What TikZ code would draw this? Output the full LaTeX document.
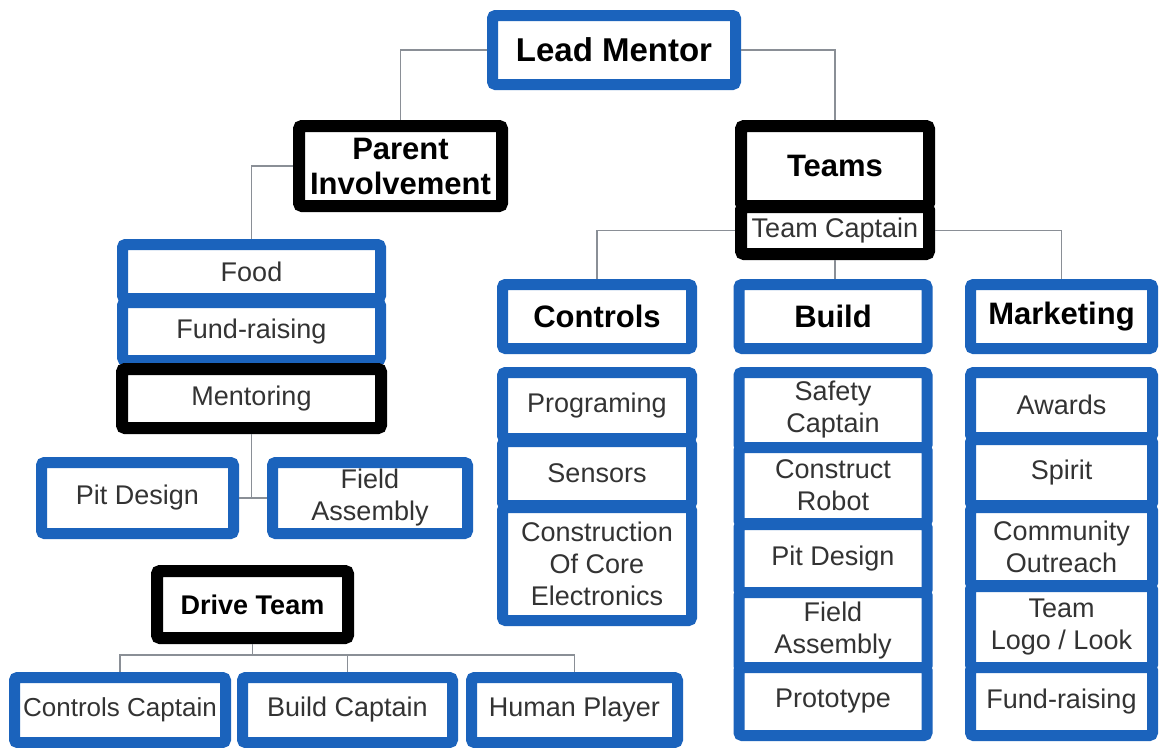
\documentclass[tikz,border=0pt]{standalone}
\usepackage{fontspec}
\setmainfont{Liberation Sans}
\usepackage{tikz}
\definecolor{boxblue}{HTML}{1B63BC}
\definecolor{linkgray}{HTML}{8A8F96}
\definecolor{celltext}{HTML}{333333}

\begin{document}
\begin{tikzpicture}[x=1pt, y=-1pt,
    bluebox/.style={draw=boxblue, line width=11pt, fill=white, rounded corners=3pt,
      inner sep=0pt, align=center, text=celltext, font=\fontsize{27}{32}\selectfont},
    blackbox/.style={bluebox, draw=black, line width=12pt},
    head/.style={text=black, font=\fontsize{31}{35}\selectfont\bfseries},
    ctrlcell/.style={bluebox, minimum width=189pt},
    buildcell/.style={bluebox, minimum width=188pt},
    mktcell/.style={bluebox, minimum width=182pt},
    link/.style={draw=linkgray, line width=1.6pt}]

    \path[use as bounding box, fill=white] (0,0) rectangle (1159,747);

    % Top of the chart
    \node[bluebox, head, font=\fontsize{33}{38}\selectfont\bfseries,
      minimum width=243pt, minimum height=69pt] (lead) at (614,50) {Lead Mentor};
    \node[blackbox, head, minimum width=203pt, minimum height=80pt] (parent) at (400.5,166) {Parent\\Involvement};
    \node[blackbox, head, minimum width=188pt, minimum height=80pt] (teams) at (835,166) {Teams};
    \node[blackbox, minimum width=188pt, minimum height=47pt] (tcap) at (835,230.5) {Team Captain};

    % Parent side
    \node[bluebox, minimum width=258pt, minimum height=54pt] (food) at (251.5,271.5) {Food};
    \node[bluebox, minimum width=258pt, minimum height=58pt] (pfund) at (251.5,331.5) {Fund-raising};
    \node[blackbox, minimum width=259pt, minimum height=59pt] (mentor) at (251.5,398.5) {Mentoring};
    \node[bluebox, minimum width=192pt, minimum height=71pt] (pitl) at (137.5,498) {Pit Design};
    \node[bluebox, minimum width=195pt, minimum height=71pt] (fieldl) at (370,498) {Field\\Assembly};

    % Drive team
    \node[blackbox, head, font=\fontsize{27}{32}\selectfont\bfseries,
      minimum width=191pt, minimum height=67pt] (drive) at (252.5,604.5) {Drive Team};
    \node[bluebox, font=\fontsize{26}{30}\selectfont, minimum width=211pt, minimum height=65pt] (ccap) at (120,710) {Controls Captain};
    \node[bluebox, minimum width=210pt, minimum height=65pt] (bcap) at (347.5,710) {Build Captain};
    \node[bluebox, minimum width=206pt, minimum height=65pt] (hplay) at (574.5,710) {Human Player};

    % Team headers
    \node[ctrlcell, head, minimum height=64pt] (ctrl) at (597,316.5) {Controls};
    \node[buildcell, head, minimum height=64pt] (build) at (833,316.5) {Build};
    \node[mktcell, head, minimum height=64pt] (mkt) at (1061.5,316.5) {Marketing};

    % Controls column
    \node[ctrlcell, minimum height=66pt] (prog) at (597,405.5) {Programing};
    \node[ctrlcell, minimum height=64pt] (sens) at (597,473.5) {Sensors};
    \node[ctrlcell, minimum height=113pt] (core) at (597,564) {Construction\\Of Core\\Electronics};

    % Build column
    \node[buildcell, minimum height=75pt] (safety) at (833,410) {Safety\\Captain};
    \node[buildcell, minimum height=76pt] (robot) at (833,485.5) {Construct\\Robot};
    \node[buildcell, minimum height=68pt] (pitb) at (833,558.5) {Pit Design};
    \node[buildcell, minimum height=76pt] (fieldb) at (833,630.5) {Field\\Assembly};
    \node[buildcell, minimum height=68pt] (proto) at (833,701.5) {Prototype};

    % Marketing column
    \node[mktcell, minimum height=65pt] (awards) at (1061.5,405) {Awards};
    \node[mktcell, minimum height=66pt] (spirit) at (1061.5,472.5) {Spirit};
    \node[mktcell, minimum height=78pt] (outreach) at (1061.5,546.5) {Community\\Outreach};
    \node[mktcell, minimum height=81pt] (logo) at (1061.5,627) {Team\\Logo / Look};
    \node[mktcell, minimum height=68pt] (mfund) at (1061.5,701.5) {Fund-raising};

    % Connectors
    \draw[link] (lead.west) -| (parent.north);
    \draw[link] (lead.east) -| (teams.north);
    \draw[link] (parent.west) -| (food.north);
    \draw[link] (mentor.south) -- (mentor.south |- pitl.east);
    \draw[link] (pitl.east) -- (fieldl.west);
    \draw[link] (tcap.west) -| (ctrl.north);
    \draw[link] (tcap.east) -| (mkt.north);
    \draw[link] (tcap.south) -- (tcap.south |- build.north);
    \draw[link] (drive.south) -- ++(0,11) coordinate (dbus);
    \draw[link] (dbus) -| (ccap.north);
    \draw[link] (dbus) -| (hplay.north);
    \draw[link] (bcap.north) -- (bcap.north |- dbus);
\end{tikzpicture}
\end{document}
